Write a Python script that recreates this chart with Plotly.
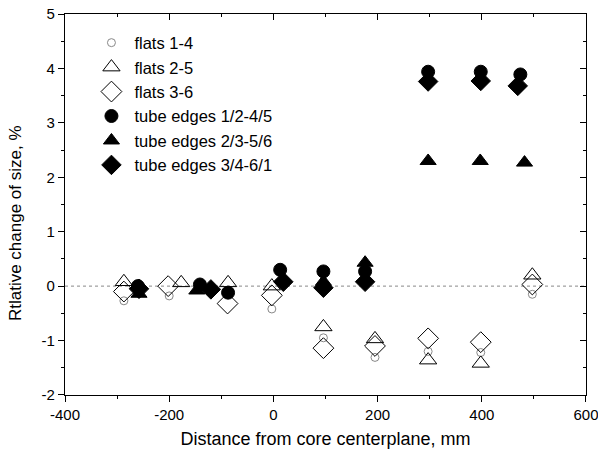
import plotly.graph_objects as go

# ---- data ----
f14_x = [-287, -200, -3, 96, 195, 297, 398, 497]
f14_y = [-0.27, -0.18, -0.42, -0.95, -1.31, -1.20, -1.22, -0.15]

f25_x = [-287, -177, -87, -3, 96, 195, 297, 398, 497]
f25_y = [0.08, 0.06, 0.06, 0.00, -0.75, -0.97, -1.36, -1.42, 0.20]

f36_x = [-287, -202, -88, -3, 96, 195, 297, 398, 497]
f36_y = [-0.10, 0.00, -0.32, -0.17, -1.14, -1.10, -0.96, -1.03, 0.03]

t1_x = [-260, -141, -87, 13, 96, 176, 297, 398, 474]
t1_y = [0.00, 0.03, -0.12, 0.30, 0.27, 0.27, 3.94, 3.94, 3.89]

t2_x = [-258, -147, 96, 176, 297, 397, 482]
t2_y = [-0.14, -0.08, 0.08, 0.43, 2.30, 2.30, 2.27]

t3_x = [-258, -120, 19, 96, 176, 297, 398, 469]
t3_y = [-0.05, -0.06, 0.08, -0.03, 0.08, 3.76, 3.77, 3.68]

x_tickvals = [-400, -200, 0, 200, 400, 600]
x_ticktext = ["-400", "-200", "0", "200", "400", "600"]
y_tickvals = [-2, -1, 0, 1, 2, 3, 4, 5]
y_ticktext = ["-2", "-1", "0", "1", "2", "3", "4", "5"]

x_range = [-400.01, 600.01]
y_range = [-2.001, 5.001]

FONT = "Liberation Sans, Arial, sans-serif"

fig = go.Figure()

def add(x, y, name, symbol, size, fill, line_color, rank):
    fig.add_trace(go.Scatter(
        x=x, y=y, mode="markers", name=name, legendrank=rank,
        marker=dict(symbol=symbol, size=size, color=fill,
                    line=dict(color=line_color, width=1)),
    ))

# filled series first, open series drawn on top
add(t1_x, t1_y, "tube edges 1/2-4/5", "circle", 13, "black", "black", 4)
add(t2_x, t2_y, "tube edges 2/3-5/6", "triangle-up", 14, "black", "black", 5)
add(t3_x, t3_y, "tube edges 3/4-6/1", "diamond", 15, "black", "black", 6)
add(f14_x, f14_y, "flats 1-4", "circle-open", 8, "#888888", "#888888", 1)
add(f25_x, f25_y, "flats 2-5", "triangle-up-open", 15, "black", "black", 2)
add(f36_x, f36_y, "flats 3-6", "diamond-open", 16, "black", "black", 3)

# dummy trace to activate mirror axes (no points)
fig.add_trace(go.Scatter(x=[None], y=[None], xaxis="x2", yaxis="y2",
                         showlegend=False, hoverinfo="skip"))

fig.add_shape(type="line", xref="x", yref="y", x0=-400, x1=600,
              y0=0, y1=0, line=dict(color="#888888", width=1, dash="dot"),
              layer="below")

axis_common = dict(showgrid=False, zeroline=False, showline=True,
                   linecolor="black", linewidth=1.2, automargin=False,
                   tickfont=dict(family=FONT, size=15, color="black"))

fig.update_layout(
    width=598, height=459,
    margin=dict(l=65, r=12, t=14, b=64),
    paper_bgcolor="white", plot_bgcolor="white",
    font=dict(family=FONT, color="black"),
    xaxis=dict(range=x_range, tickmode="array", tickvals=x_tickvals, ticktext=x_ticktext,
               ticks="outside", ticklen=6, tickcolor="black", tickwidth=1,
               ticklabeloverflow="allow",
               minor=dict(dtick=100, tick0=-400, ticks="outside", ticklen=3, tickcolor="black"),
               title=dict(text="Distance from core centerplane, mm",
                          font=dict(family=FONT, size=18), standoff=10),
               **axis_common),
    yaxis=dict(range=y_range, tickmode="array", tickvals=y_tickvals, ticktext=y_ticktext,
               ticks="outside", ticklen=6, tickcolor="black", tickwidth=1,
               ticklabeloverflow="allow",
               minor=dict(dtick=0.5, tick0=-2, ticks="outside", ticklen=3, tickcolor="black"),
               **axis_common),
    xaxis2=dict(range=x_range, overlaying="x", side="top", tickmode="array",
                tickvals=x_tickvals, ticks="inside", ticklen=6, tickcolor="black",
                showticklabels=False,
                minor=dict(dtick=100, tick0=-400, ticks="inside", ticklen=3, tickcolor="black"),
                **axis_common),
    yaxis2=dict(range=y_range, overlaying="y", side="right", tickmode="array",
                tickvals=y_tickvals, ticks="inside", ticklen=6, tickcolor="black",
                showticklabels=False,
                minor=dict(dtick=0.5, tick0=-2, ticks="inside", ticklen=3, tickcolor="black"),
                **axis_common),
    legend=dict(x=0.045, y=0.97, xanchor="left", yanchor="top",
                bgcolor="rgba(0,0,0,0)", font=dict(family=FONT, size=16.5),
                itemsizing="trace", itemwidth=36, tracegroupgap=0),
    showlegend=True,
)

fig.add_annotation(text="Rtlative change of size, %", textangle=-90,
                   xref="paper", yref="paper", x=-0.095, y=0.45,
                   xanchor="center", yanchor="middle", showarrow=False,
                   font=dict(family=FONT, size=17, color="black"))

fig.write_html("out.html")
